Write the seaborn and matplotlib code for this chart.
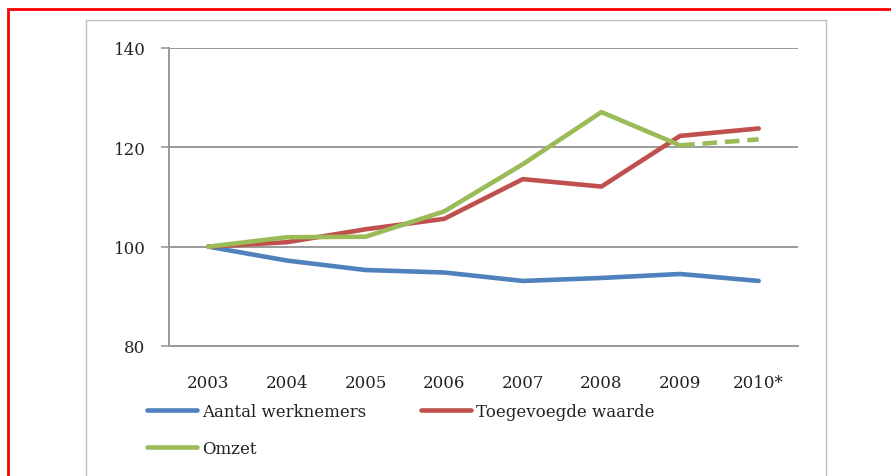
import numpy as np
import pandas as pd
import seaborn as sns
from matplotlib import pyplot as plt
from matplotlib.patches import Rectangle
from matplotlib.lines import Line2D

# index 2003 = 100
years = ["2003", "2004", "2005", "2006", "2007", "2008", "2009", "2010*"]
werknemers = [100, 97.2, 95.3, 94.8, 93.1, 93.7, 94.5, 93.1]
toegevoegd = [100, 100.9, 103.5, 105.6, 113.6, 112.1, 122.3, 123.8]
omzet = [100, 101.9, 102.0, 107.1, 116.6, 127.1, 120.4]
omzet_prognose = [120.4, 121.6]  # 2009 -> 2010*, dashed

blue, red, green = "#4F81BD", "#C0504D", "#9BBB59"

sns.set_style("white")
plt.rcParams['font.family'] = ['DejaVu Serif']

fig = plt.figure(figsize=(8.91, 4.77), dpi=100)
ax = fig.add_axes([169 / 891, 1 - 347 / 477, (798 - 169) / 891, (347 - 49) / 477])

pos = np.arange(len(years))
df = pd.DataFrame({"pos": pos, "werknemers": werknemers, "toegevoegd": toegevoegd})
sns.lineplot(ax=ax, data=df, x="pos", y="werknemers", color=blue, lw=3.3)
sns.lineplot(ax=ax, data=df, x="pos", y="toegevoegd", color=red, lw=3.3)
sns.lineplot(ax=ax, x=pos[:len(omzet)], y=omzet, color=green, lw=3.3)
sns.lineplot(ax=ax, x=pos[6:8], y=omzet_prognose, color=green, lw=3.3, linestyle=(0, (3.2, 1.7)))

ax.set_xlim(-0.5, len(years) - 0.5)
ax.set_ylim(80, 140)
ax.set_yticks([80, 100, 120, 140])
ax.yaxis.grid(True, color="#9a9a9a", lw=1.4)
ax.set_axisbelow(True)
ax.set_xlabel("")
ax.set_ylabel("")

# category labels centred, tick marks at the boundaries
ax.set_xticks(pos)
ax.set_xticklabels(years)
ax.set_xticks(np.arange(-0.5, len(years)), minor=True)
ax.tick_params(axis="x", which="major", length=0, pad=20, labelsize=12, colors="#222222")
ax.tick_params(axis="x", which="minor", length=5, width=1.2, color="#9a9a9a", direction="out")
ax.tick_params(axis="y", length=6, width=1.2, color="#9a9a9a", pad=11, labelsize=12,
               labelcolor="#222222", left=True)

for s in ["top", "right"]:
    ax.spines[s].set_visible(False)
for s in ["left", "bottom"]:
    ax.spines[s].set_color("#9a9a9a")
    ax.spines[s].set_linewidth(1.4)

handles = [Line2D([], [], color=blue, lw=3.3), Line2D([], [], color=green, lw=3.3),
           Line2D([], [], color=red, lw=3.3)]
labels = ["Aantal werknemers", "Omzet", "Toegevoegde waarde"]
leg = fig.legend(handles, labels, ncol=2, frameon=False, fontsize=12,
                 loc="upper left", bbox_to_anchor=(147 / 891, 1 - 404 / 477),
                 handlelength=3.0, handletextpad=0.3, columnspacing=3.3, labelspacing=1.2,
                 borderaxespad=0, borderpad=0)
for t in leg.get_texts():
    t.set_color("#222222")

# page frame and chart box
fig.patches.append(Rectangle((8 / 891, -0.1), 2, 1 - 10 / 477 + 0.1, transform=fig.transFigure,
                             fill=False, edgecolor="red", lw=2))
fig.patches.append(Rectangle((86 / 891, -0.1), (826 - 86) / 891, 1 - 21 / 477 + 0.1,
                             transform=fig.transFigure, fill=False, edgecolor="#bdbdbd", lw=1))

fig.savefig("out.png", dpi=100)
